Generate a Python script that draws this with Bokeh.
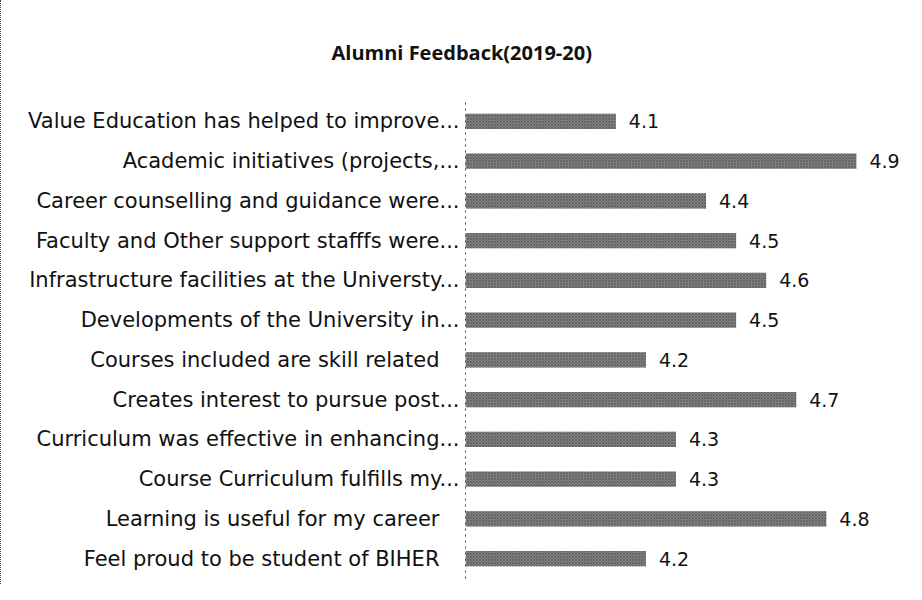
from bokeh.plotting import figure
from bokeh.models import ColumnDataSource, LabelSet, FactorRange
from bokeh.core.properties import value
from bokeh.embed import file_html
from bokeh.resources import INLINE

categories = [
    "Value Education has helped to improve...",
    "Academic initiatives (projects,...",
    "Career counselling and guidance were...",
    "Faculty and Other support stafffs were...",
    "Infrastructure facilities at the Universty...",
    "Developments of the University in...",
    "Courses included are skill related\u00a0\u00a0\u00a0",
    "Creates interest to pursue post...",
    "Curriculum was effective in enhancing...",
    "Course Curriculum fulfills my...",
    "Learning is useful for my career\u00a0\u00a0\u00a0",
    "Feel proud to be student of BIHER\u00a0\u00a0\u00a0",
]
scores = [4.1, 4.9, 4.4, 4.5, 4.6, 4.5, 4.2, 4.7, 4.3, 4.3, 4.8, 4.2]
score_labels = [f"{v:.1f}" for v in scores]
axis_min = 3.6
axis_max = 5.07

src = ColumnDataSource(dict(cat=categories, val=scores, lab=score_labels,
                            base=[axis_min] * len(scores)))

p = figure(width=906, height=584, output_backend="svg", toolbar_location=None,
           y_range=FactorRange(*reversed(categories)),
           x_range=(axis_min, axis_max),
           min_border_left=464, min_border_right=0, min_border_top=98,
           min_border_bottom=6)

p.hbar(y="cat", left="base", right="val", height=0.38, source=src,
       fill_color="#828282", line_color=None,
       hatch_pattern="diagonal_cross", hatch_color="#505050",
       hatch_scale=3, hatch_weight=0.6)

labels = LabelSet(x="val", y="cat", text="lab", source=src, x_offset=13,
                  text_baseline="middle", text_font=value("DejaVu Sans"),
                  text_font_size="19px", text_color="#111111")
p.add_layout(labels)

p.title.text = "Alumni Feedback(2019-20)"
p.title.text_font = "Open Sans"
p.title.text_font_style = "bold"
p.title.text_font_size = "20px"
p.title.align = "left"
p.title.offset = -134
p.title.standoff = 72
p.title.text_color = "#111111"

p.xaxis.visible = False
p.xgrid.visible = False
p.ygrid.visible = False
p.yaxis.major_tick_line_color = None
p.yaxis.minor_tick_line_color = None
p.yaxis.major_tick_out = 0
p.yaxis.major_tick_in = 0
p.yaxis.axis_line_color = "#444444"
p.yaxis.axis_line_dash = "dotted"
p.yaxis.major_label_standoff = 6
p.yaxis.major_label_text_font = "DejaVu Sans"
p.yaxis.major_label_text_font_size = "21px"
p.yaxis.major_label_text_color = "#111111"

p.outline_line_color = None
p.background_fill_color = "white"
p.border_fill_color = "white"
p.styles = {"border-left": "1px dotted #444444"}

open("out.html", "w").write(file_html(p, INLINE))
